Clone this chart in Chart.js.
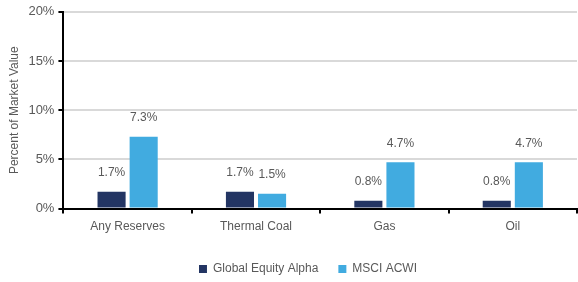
<!DOCTYPE html>
<html>
<head>
<meta charset="utf-8">
<script src="https://cdn.jsdelivr.net/npm/chart.js@4"></script>
<style>
  html, body { margin: 0; padding: 0; background: #fff; }
  #wrap { width: 578px; height: 282px; }
</style>
</head>
<body>
<div id="wrap"><canvas id="reservesChart"></canvas></div>
<script>
const categories = ['Any Reserves', 'Thermal Coal', 'Gas', 'Oil'];
const globalEquityAlpha = [1.7, 1.7, 0.8, 0.8];
const msciAcwi = [7.3, 1.5, 4.7, 4.7];
const yTicks = [0, 5, 10, 15, 20];

const FONT = "'Liberation Sans', Arial, sans-serif";
const GREY = '#595959';

// value labels above the bars
const barLabels = {
  id: 'barLabels',
  afterDatasetsDraw(chart) {
    const ctx = chart.ctx;
    ctx.save();
    ctx.font = '12px ' + FONT;
    ctx.fillStyle = GREY;
    ctx.textAlign = 'center';
    ctx.textBaseline = 'bottom';
    chart.data.datasets.forEach((ds, i) => {
      chart.getDatasetMeta(i).data.forEach((bar, j) => {
        ctx.fillText(ds.data[j].toFixed(1) + '%', bar.x, bar.y - 13);
      });
    });
    ctx.restore();
  }
};

// nudge legend a bit right, like the original
const legendShift = {
  id: 'legendShift',
  afterLayout(chart) {
    chart.legend.left += 16;
    chart.legend.right += 16;
  }
};

document.addEventListener('DOMContentLoaded', () => {
  const ctx = document.getElementById('reservesChart');
  new Chart(ctx, {
    type: 'bar',
    data: {
      labels: categories,
      datasets: [{
        label: 'Global Equity Alpha',
        data: globalEquityAlpha,
        backgroundColor: '#233563'
      }, {
        label: 'MSCI ACWI',
        data: msciAcwi,
        backgroundColor: '#41ABE0'
      }]
    },
    options: {
      responsive: true,
      maintainAspectRatio: false,
      animation: false,
      layout: { padding: { top: 6, right: 1, left: 7, bottom: -3 } },
      datasets: {
        bar: { categoryPercentage: 0.5, barPercentage: 0.875 }
      },
      plugins: {
        legend: {
          position: 'bottom',
          labels: {
            boxWidth: 8,
            boxHeight: 8,
            padding: 20,
            color: GREY,
            font: { family: FONT, size: 12 }
          }
        },
        tooltip: { enabled: false }
      },
      scales: {
        x: {
          afterFit(scale) { scale.height += 3; },
          grid: {
            drawOnChartArea: false,
            color: '#000',
            tickLength: 5,
            lineWidth: 2
          },
          border: { color: '#000', width: 2 },
          ticks: {
            color: GREY,
            font: { family: FONT, size: 12 },
            padding: 6
          }
        },
        y: {
          min: 0,
          max: 20,
          afterBuildTicks(axis) {
            axis.ticks = yTicks.map(v => ({ value: v }));
          },
          grid: {
            color: '#d9d9d9',
            lineWidth: 2,
            tickColor: '#000',
            tickLength: 5
          },
          border: { color: '#000', width: 2 },
          ticks: {
            color: GREY,
            font: { family: FONT, size: 13 },
            padding: 4,
            callback: v => v + '%'
          },
          title: {
            display: true,
            text: 'Percent of Market Value',
            color: GREY,
            font: { family: FONT, size: 12 },
            padding: { top: 0, bottom: 3 }
          }
        }
      }
    },
    plugins: [barLabels, legendShift]
  });
});
</script>
</body>
</html>
